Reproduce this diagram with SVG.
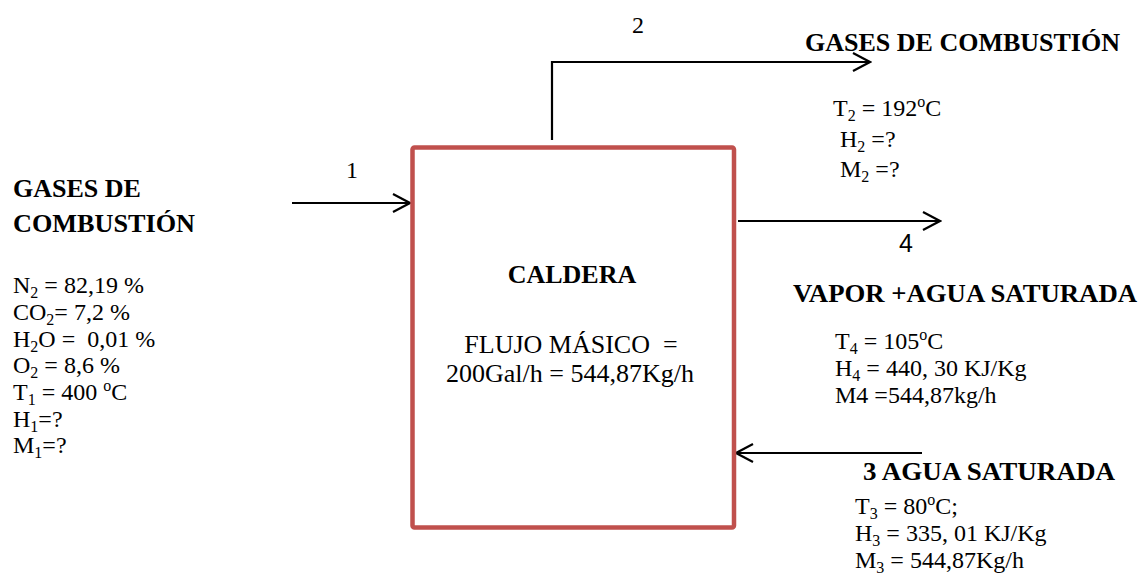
<svg xmlns="http://www.w3.org/2000/svg" width="1148" height="574" viewBox="0 0 1148 574">
<style>
.t{font-family:"Liberation Serif","Times New Roman",serif;font-size:24px;fill:#000;white-space:pre}
.b{font-family:"Liberation Serif","Times New Roman",serif;font-size:26px;font-weight:bold;fill:#000;white-space:pre}
.c{font-family:"Liberation Serif","Times New Roman",serif;font-size:26px;fill:#000;white-space:pre}
.n{font-family:"Liberation Sans",Arial,sans-serif;font-size:25px;fill:#000}
.s{font-size:16px}
.line{fill:none;stroke:#000;stroke-width:2.2}
</style>
<defs>
<marker id="ah" viewBox="0 0 20 20" refX="18" refY="10" markerWidth="20" markerHeight="20" markerUnits="userSpaceOnUse" orient="auto">
<path d="M1,1 L18,10 L1,19" fill="none" stroke="#000" stroke-width="2.2"/>
</marker>
</defs>
<rect width="1148" height="574" fill="#fff"/>
<g id="connectors">
<path class="line" d="M292,203 H410" marker-end="url(#ah)"/>
<path class="line" d="M552,140 V62 H870" marker-end="url(#ah)"/>
<path class="line" d="M738,221 H940" marker-end="url(#ah)"/>
<path class="line" d="M922,453 H736" marker-end="url(#ah)"/>
</g>
<g id="caldera">
<rect x="412.5" y="147.5" width="321.5" height="380" rx="2" fill="none" stroke="#C0504D" stroke-width="4.5"/>
<text class="b" x="572" y="283" text-anchor="middle">CALDERA</text>
<text class="c" x="571" y="353" text-anchor="middle">FLUJO MÁSICO  =</text>
<text class="c" x="570" y="382" text-anchor="middle">200Gal/h = 544,87Kg/h</text>
</g>
<g id="labels">
<text class="t" x="632" y="33">2</text>
<text class="t" x="346" y="178">1</text>
<text class="n" x="899" y="252">4</text>
</g>
<g id="stream1">
<text class="b" x="13" y="197">GASES DE</text>
<text class="b" x="13" y="232" textLength="182" lengthAdjust="spacingAndGlyphs">COMBUSTIÓN</text>
<text class="t" x="13" y="293">N<tspan class="s" dy="5">2</tspan><tspan dy="-5"> = 82,19 %</tspan></text>
<text class="t" x="13" y="320">CO<tspan class="s" dy="5">2</tspan><tspan dy="-5">= 7,2 %</tspan></text>
<text class="t" x="13" y="347">H<tspan class="s" dy="5">2</tspan><tspan dy="-5">O =  0,01 %</tspan></text>
<text class="t" x="13" y="373">O<tspan class="s" dy="5">2</tspan><tspan dy="-5"> = 8,6 %</tspan></text>
<text class="t" x="13" y="400">T<tspan class="s" dy="5">1</tspan><tspan dy="-5"> = 400 </tspan><tspan class="s" dy="-9">o</tspan><tspan dy="9">C</tspan></text>
<text class="t" x="13" y="427">H<tspan class="s" dy="5">1</tspan><tspan dy="-5">=?</tspan></text>
<text class="t" x="13" y="453">M<tspan class="s" dy="5">1</tspan><tspan dy="-5">=?</tspan></text>
</g>
<g id="stream2">
<text class="b" x="805" y="51">GASES DE COMBUSTIÓN</text>
<text class="t" x="833" y="116">T<tspan class="s" dy="5">2</tspan><tspan dy="-5"> = 192</tspan><tspan class="s" dy="-9">o</tspan><tspan dy="9">C</tspan></text>
<text class="t" x="840" y="147">H<tspan class="s" dy="5">2</tspan><tspan dy="-5"> =?</tspan></text>
<text class="t" x="840" y="177">M<tspan class="s" dy="5">2</tspan><tspan dy="-5"> =?</tspan></text>
</g>
<g id="stream4">
<text class="b" x="793" y="302" textLength="344" lengthAdjust="spacingAndGlyphs">VAPOR +AGUA SATURADA</text>
<text class="t" x="835" y="349">T<tspan class="s" dy="5">4</tspan><tspan dy="-5"> = 105</tspan><tspan class="s" dy="-9">o</tspan><tspan dy="9">C</tspan></text>
<text class="t" x="835" y="376">H<tspan class="s" dy="5">4</tspan><tspan dy="-5"> = 440, 30 KJ/Kg</tspan></text>
<text class="t" x="835" y="403">M4 =544,87kg/h</text>
</g>
<g id="stream3">
<text class="b" x="863" y="480" textLength="252" lengthAdjust="spacingAndGlyphs">3 AGUA SATURADA</text>
<text class="t" x="855" y="514">T<tspan class="s" dy="5">3</tspan><tspan dy="-5"> = 80</tspan><tspan class="s" dy="-9">o</tspan><tspan dy="9">C;</tspan></text>
<text class="t" x="855" y="541">H<tspan class="s" dy="5">3</tspan><tspan dy="-5"> = 335, 01 KJ/Kg</tspan></text>
<text class="t" x="855" y="568">M<tspan class="s" dy="5">3</tspan><tspan dy="-5"> = 544,87Kg/h</tspan></text>
</g>
</svg>
